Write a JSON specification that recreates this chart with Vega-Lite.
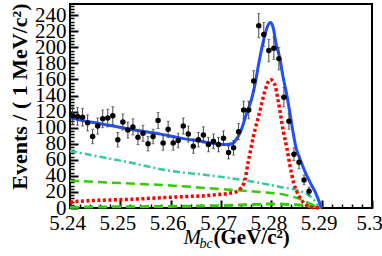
{
  "$schema": "https://vega.github.io/schema/vega-lite/v6.json",
  "width": 302,
  "height": 204,
  "autosize": {"type": "none"},
  "padding": {"left": 70, "top": 4, "right": 10, "bottom": 48},
  "config": {
    "font": "Liberation Serif",
    "view": {"stroke": "black", "strokeWidth": 2},
    "axis": {"grid": false, "domain": false, "tickColor": "black", "labelColor": "black", "titleColor": "black",
      "labelFont": "Liberation Serif", "titleFont": "Liberation Serif", "labelOverlap": false, "labelFlush": false, "labelBound": false}
  },
  "datasets": {
    "pts": [
      {"x": 5.2405, "y": 115, "lo": 104, "hi": 126},
      {"x": 5.2415, "y": 114, "lo": 103, "hi": 125},
      {"x": 5.2425, "y": 113, "lo": 102, "hi": 124},
      {"x": 5.2435, "y": 106, "lo": 96, "hi": 116},
      {"x": 5.2445, "y": 89, "lo": 80, "hi": 98},
      {"x": 5.2455, "y": 102, "lo": 92, "hi": 112},
      {"x": 5.2465, "y": 111, "lo": 100, "hi": 122},
      {"x": 5.2475, "y": 112, "lo": 101, "hi": 123},
      {"x": 5.2485, "y": 115, "lo": 104, "hi": 126},
      {"x": 5.2495, "y": 85, "lo": 76, "hi": 94},
      {"x": 5.2505, "y": 107, "lo": 97, "hi": 117},
      {"x": 5.2515, "y": 97, "lo": 87, "hi": 107},
      {"x": 5.2525, "y": 101, "lo": 91, "hi": 111},
      {"x": 5.2535, "y": 88, "lo": 79, "hi": 97},
      {"x": 5.2545, "y": 93, "lo": 83, "hi": 103},
      {"x": 5.2555, "y": 80, "lo": 71, "hi": 89},
      {"x": 5.2565, "y": 89, "lo": 80, "hi": 98},
      {"x": 5.2575, "y": 109, "lo": 99, "hi": 119},
      {"x": 5.2585, "y": 81, "lo": 72, "hi": 90},
      {"x": 5.2595, "y": 98, "lo": 88, "hi": 108},
      {"x": 5.2605, "y": 81, "lo": 72, "hi": 90},
      {"x": 5.2615, "y": 84, "lo": 75, "hi": 93},
      {"x": 5.2625, "y": 102, "lo": 92, "hi": 112},
      {"x": 5.2635, "y": 92, "lo": 82, "hi": 102},
      {"x": 5.2645, "y": 77, "lo": 68, "hi": 86},
      {"x": 5.2655, "y": 85, "lo": 76, "hi": 94},
      {"x": 5.2665, "y": 91, "lo": 81, "hi": 101},
      {"x": 5.2675, "y": 79, "lo": 70, "hi": 88},
      {"x": 5.2685, "y": 83, "lo": 74, "hi": 92},
      {"x": 5.2695, "y": 79, "lo": 70, "hi": 88},
      {"x": 5.2705, "y": 87, "lo": 78, "hi": 96},
      {"x": 5.2715, "y": 69, "lo": 61, "hi": 77},
      {"x": 5.2725, "y": 75, "lo": 66, "hi": 84},
      {"x": 5.2735, "y": 95, "lo": 85, "hi": 105},
      {"x": 5.2745, "y": 122, "lo": 111, "hi": 133},
      {"x": 5.2755, "y": 122, "lo": 111, "hi": 133},
      {"x": 5.2765, "y": 158, "lo": 145, "hi": 171},
      {"x": 5.2775, "y": 227, "lo": 212, "hi": 242},
      {"x": 5.2785, "y": 216, "lo": 201, "hi": 231},
      {"x": 5.2795, "y": 196, "lo": 182, "hi": 210},
      {"x": 5.2805, "y": 199, "lo": 185, "hi": 213},
      {"x": 5.2815, "y": 186, "lo": 172, "hi": 200},
      {"x": 5.2825, "y": 138, "lo": 126, "hi": 150},
      {"x": 5.2835, "y": 108, "lo": 98, "hi": 118},
      {"x": 5.2845, "y": 67, "lo": 59, "hi": 75},
      {"x": 5.2855, "y": 57, "lo": 49, "hi": 65},
      {"x": 5.2865, "y": 35, "lo": 29, "hi": 41},
      {"x": 5.2875, "y": 21, "lo": 16, "hi": 26}
    ],
    "curves": [
      {"s": "tot", "x": 5.24, "y": 113},
      {"s": "tot", "x": 5.241, "y": 111},
      {"s": "tot", "x": 5.246, "y": 105},
      {"s": "tot", "x": 5.252, "y": 98},
      {"s": "tot", "x": 5.258, "y": 92},
      {"s": "tot", "x": 5.262, "y": 87},
      {"s": "tot", "x": 5.266, "y": 83},
      {"s": "tot", "x": 5.269, "y": 80},
      {"s": "tot", "x": 5.271, "y": 79},
      {"s": "tot", "x": 5.2722, "y": 80},
      {"s": "tot", "x": 5.2732, "y": 87},
      {"s": "tot", "x": 5.274, "y": 97},
      {"s": "tot", "x": 5.275, "y": 116},
      {"s": "tot", "x": 5.276, "y": 134},
      {"s": "tot", "x": 5.2767, "y": 152},
      {"s": "tot", "x": 5.2775, "y": 180},
      {"s": "tot", "x": 5.2785, "y": 210},
      {"s": "tot", "x": 5.2793, "y": 227},
      {"s": "tot", "x": 5.2798, "y": 231},
      {"s": "tot", "x": 5.2803, "y": 226},
      {"s": "tot", "x": 5.281, "y": 203},
      {"s": "tot", "x": 5.2817, "y": 186},
      {"s": "tot", "x": 5.2823, "y": 164},
      {"s": "tot", "x": 5.283, "y": 143},
      {"s": "tot", "x": 5.2837, "y": 118},
      {"s": "tot", "x": 5.2843, "y": 95},
      {"s": "tot", "x": 5.2849, "y": 75},
      {"s": "tot", "x": 5.2857, "y": 61},
      {"s": "tot", "x": 5.2867, "y": 45},
      {"s": "tot", "x": 5.2877, "y": 32},
      {"s": "tot", "x": 5.2887, "y": 20},
      {"s": "tot", "x": 5.2895, "y": 8},
      {"s": "tot", "x": 5.29, "y": 0},
      {"s": "sig", "x": 5.24, "y": 7},
      {"s": "sig", "x": 5.241, "y": 8},
      {"s": "sig", "x": 5.2526, "y": 11},
      {"s": "sig", "x": 5.262, "y": 14},
      {"s": "sig", "x": 5.2682, "y": 16},
      {"s": "sig", "x": 5.2729, "y": 20},
      {"s": "sig", "x": 5.2745, "y": 30},
      {"s": "sig", "x": 5.2755, "y": 60},
      {"s": "sig", "x": 5.2764, "y": 88},
      {"s": "sig", "x": 5.2777, "y": 120},
      {"s": "sig", "x": 5.2787, "y": 145},
      {"s": "sig", "x": 5.2798, "y": 160},
      {"s": "sig", "x": 5.2806, "y": 155},
      {"s": "sig", "x": 5.2814, "y": 132},
      {"s": "sig", "x": 5.2824, "y": 95},
      {"s": "sig", "x": 5.2831, "y": 74},
      {"s": "sig", "x": 5.2837, "y": 53},
      {"s": "sig", "x": 5.2844, "y": 32},
      {"s": "sig", "x": 5.2851, "y": 20},
      {"s": "sig", "x": 5.2861, "y": 9},
      {"s": "sig", "x": 5.2871, "y": 3},
      {"s": "sig", "x": 5.288, "y": 1},
      {"s": "sig", "x": 5.29, "y": 0},
      {"s": "argus", "x": 5.24, "y": 71},
      {"s": "argus", "x": 5.25, "y": 59},
      {"s": "argus", "x": 5.2625, "y": 44},
      {"s": "argus", "x": 5.2642, "y": 43},
      {"s": "argus", "x": 5.2742, "y": 35},
      {"s": "argus", "x": 5.2815, "y": 26.5},
      {"s": "argus", "x": 5.2862, "y": 20},
      {"s": "argus", "x": 5.2882, "y": 12},
      {"s": "argus", "x": 5.2895, "y": 2},
      {"s": "argus", "x": 5.29, "y": 0},
      {"s": "bkg", "x": 5.24, "y": 34},
      {"s": "bkg", "x": 5.25, "y": 31},
      {"s": "bkg", "x": 5.26, "y": 28},
      {"s": "bkg", "x": 5.27, "y": 23.5},
      {"s": "bkg", "x": 5.2775, "y": 20},
      {"s": "bkg", "x": 5.283, "y": 16},
      {"s": "bkg", "x": 5.286, "y": 10.5},
      {"s": "bkg", "x": 5.2885, "y": 3},
      {"s": "bkg", "x": 5.29, "y": 0},
      {"s": "pk", "x": 5.24, "y": 1},
      {"s": "pk", "x": 5.25, "y": 1.5},
      {"s": "pk", "x": 5.26, "y": 2},
      {"s": "pk", "x": 5.27, "y": 3},
      {"s": "pk", "x": 5.275, "y": 4},
      {"s": "pk", "x": 5.28, "y": 5},
      {"s": "pk", "x": 5.285, "y": 4},
      {"s": "pk", "x": 5.288, "y": 2},
      {"s": "pk", "x": 5.29, "y": 0}
    ]
  },
  "resolve": {"axis": {"x": "independent", "y": "independent"}},
  "layer": [
    {
      "data": {"name": "curves"},
      "transform": [{"filter": "datum.s === 'argus'"}],
      "mark": {"type": "line", "color": "#33cc99", "strokeWidth": 2.5, "strokeDash": [7, 3, 2, 3], "interpolate": "monotone"},
      "encoding": {
        "x": {"field": "x", "type": "quantitative", "scale": {"domain": [5.24, 5.3], "nice": false, "zero": false}, "axis": null},
        "y": {"field": "y", "type": "quantitative", "scale": {"domain": [0, 254], "nice": false}, "axis": null}
      }
    },
    {
      "data": {"name": "curves"},
      "transform": [{"filter": "datum.s === 'bkg'"}],
      "mark": {"type": "line", "color": "#33cc00", "strokeWidth": 2.5, "strokeDash": [9, 5], "interpolate": "monotone"},
      "encoding": {
        "x": {"field": "x", "type": "quantitative", "axis": null},
        "y": {"field": "y", "type": "quantitative", "axis": null}
      }
    },
    {
      "data": {"name": "curves"},
      "transform": [{"filter": "datum.s === 'pk'"}],
      "mark": {"type": "line", "color": "#33cc00", "strokeWidth": 3, "strokeDash": [9, 5], "interpolate": "monotone"},
      "encoding": {
        "x": {"field": "x", "type": "quantitative", "axis": null},
        "y": {"field": "y", "type": "quantitative", "axis": null}
      }
    },
    {
      "data": {"name": "curves"},
      "transform": [{"filter": "datum.s === 'sig'"}],
      "mark": {"type": "line", "color": "#ff0000", "strokeWidth": 3.5, "strokeDash": [3, 2.5], "interpolate": "monotone"},
      "encoding": {
        "x": {"field": "x", "type": "quantitative", "axis": null},
        "y": {"field": "y", "type": "quantitative", "axis": null}
      }
    },
    {
      "data": {"name": "curves"},
      "transform": [{"filter": "datum.s === 'tot'"}],
      "mark": {"type": "line", "color": "#1f4fff", "strokeWidth": 3, "interpolate": "monotone"},
      "encoding": {
        "x": {"field": "x", "type": "quantitative", "axis": {
          "orient": "bottom", "values": [5.242,5.244,5.246,5.248,5.252,5.254,5.256,5.258,5.262,5.264,5.266,5.268,5.272,5.274,5.276,5.278,5.282,5.284,5.286,5.288,5.292,5.294,5.296,5.298],
          "labels": false, "tickSize": -4, "tickWidth": 1.5, "title": "M", "titleFontStyle": "italic", "titleFontWeight": "normal", "titleFontSize": 21,
          "titleX": 113, "titleY": 35, "titleAlign": "left", "titleBaseline": "alphabetic"}},
        "y": {"field": "y", "type": "quantitative", "axis": {
          "orient": "left", "values": [4,8,12,16,24,28,32,36,44,48,52,56,64,68,72,76,84,88,92,96,104,108,112,116,124,128,132,136,144,148,152,156,164,168,172,176,184,188,192,196,204,208,212,216,224,228,232,236,244,248,252],
          "labels": false, "tickSize": -4, "tickWidth": 1.5, "title": null}}
      }
    },
    {
      "data": {"name": "pts"},
      "mark": {"type": "errorbar", "color": "#444444", "thickness": 1, "ticks": {"size": 3, "color": "#444444"}},
      "encoding": {
        "x": {"field": "x", "type": "quantitative", "axis": {
          "orient": "bottom", "values": [5.24,5.25,5.26,5.27,5.28,5.29,5.3], "format": ".2~f",
          "tickSize": -8, "tickWidth": 2, "labelFontSize": 21, "labelPadding": 12, "labelOffset": -3,
          "title": "(GeV/c²)", "titleFontSize": 21, "titleFontWeight": "bold",
          "titleX": 143, "titleY": 35, "titleAlign": "left", "titleBaseline": "alphabetic"}},
        "y": {"field": "lo", "type": "quantitative", "axis": {
          "orient": "left", "values": [0,20,40,60,80,100,120,140,160,180,200,220,240],
          "tickSize": -8, "tickWidth": 2, "labelFontSize": 21, "labelPadding": 12,
          "title": "Events / ( 1 MeV/c²)", "titleFontSize": 22, "titleFontWeight": "bold",
          "titleAngle": -90, "titleX": -44, "titleY": -1, "titleAlign": "right", "titleBaseline": "alphabetic"}},
        "y2": {"field": "hi"}
      }
    },
    {
      "data": {"name": "pts"},
      "mark": {"type": "circle", "color": "black", "opacity": 1, "size": 30},
      "encoding": {
        "x": {"field": "x", "type": "quantitative", "axis": {
          "orient": "bottom", "values": [], "ticks": false, "labels": false,
          "title": "bc", "titleFontSize": 14, "titleFontStyle": "italic", "titleFontWeight": "normal",
          "titleX": 129, "titleY": 39, "titleAlign": "left", "titleBaseline": "alphabetic"}},
        "y": {"field": "y", "type": "quantitative", "axis": null}
      }
    }
  ]
}
